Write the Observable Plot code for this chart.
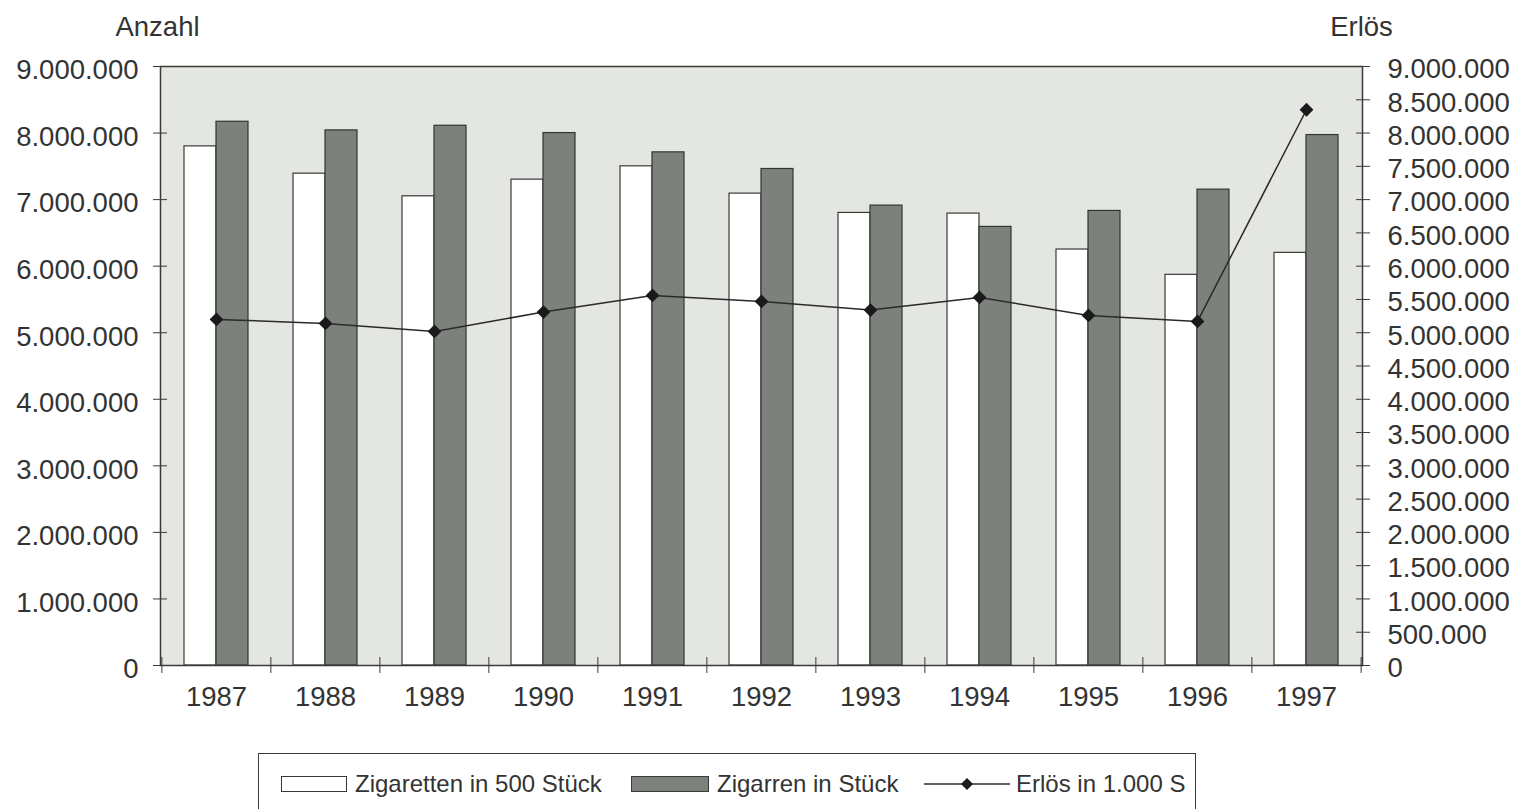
<!DOCTYPE html>
<html>
<head>
<meta charset="utf-8">
<script src="https://cdn.jsdelivr.net/npm/d3@7"></script>
<script src="https://cdn.jsdelivr.net/npm/@observablehq/plot@0.6"></script>
<style>
html, body { margin: 0; padding: 0; background: #ffffff; overflow: hidden; }
#chart { position: absolute; left: 0; top: 0; }
#legend { position: absolute; left: 258px; top: 753px; width: 938px; height: 80px; border: 1.5px solid #3a3a3a; box-sizing: border-box; font-family: "Liberation Sans", Arial, Helvetica, sans-serif; font-size: 24px; color: #333; }
.item { position: absolute; top: 16px; height: 27px; display: flex; align-items: center; white-space: nowrap; }
.sw { display: inline-block; width: 64px; height: 14px; border: 1.5px solid #3a3a3a; margin-right: 8px; }
</style>
</head>
<body>
<div id="chart"></div>
<div id="legend"></div>
<script>
// ---- data ----
const years = ["1987", "1988", "1989", "1990", "1991", "1992", "1993", "1994", "1995", "1996", "1997"];
const zigaretten = [7800000, 7390000, 7050000, 7300000, 7500000, 7090000, 6800000, 6790000, 6250000, 5870000, 6200000];
const zigarren = [8170000, 8040000, 8110000, 8000000, 7710000, 7460000, 6910000, 6590000, 6830000, 7150000, 7970000];
const erloes = [5200000, 5140000, 5020000, 5310000, 5560000, 5470000, 5340000, 5530000, 5260000, 5170000, 8350000];
const leftTicks = [0, 1000000, 2000000, 3000000, 4000000, 5000000, 6000000, 7000000, 8000000, 9000000];
const rightTicks = [0, 500000, 1000000, 1500000, 2000000, 2500000, 3000000, 3500000, 4000000, 4500000, 5000000, 5500000, 6000000, 6500000, 7000000, 7500000, 8000000, 8500000, 9000000];
const seriesNames = ["Zigaretten in 500 Stück", "Zigarren in Stück", "Erlös in 1.000 S"];
const axisTitles = ["Anzahl", "Erlös"];

// ---- layout / style ----
const W = 1517, H = 735, mL = 160, mR = 155, mT = 66, mB = 70;
const step = (W - mL - mR) / years.length;
const barW = 32;
const pInner = 1 - barW / step;
const colWhite = "#ffffff", colGray = "#7c827b", colBg = "#e4e6e1", ink = "#3a3a3a";
const fmt = d3.formatLocale({decimal: ",", thousands: ".", grouping: [3], currency: ["", ""]}).format(",");

const table = years.map((y, i) => ({year: y, zig: zigaretten[i], zigarren: zigarren[i], erl: erloes[i]}));

const plot = Plot.plot({
  width: W, height: H,
  marginLeft: mL, marginRight: mR, marginTop: mT, marginBottom: mB,
  style: {fontFamily: "'Liberation Sans', Arial, Helvetica, sans-serif", fontSize: "27.5px", color: "#333", background: "transparent", overflow: "visible"},
  x: {type: "band", domain: years, paddingInner: pInner, paddingOuter: pInner / 2, label: null},
  y: {domain: [0, 9000000], label: null},
  marks: [
    Plot.frame({fill: colBg, stroke: "none"}),
    Plot.barY(table, {x: "year", y: "zig", fill: colWhite, stroke: ink, strokeWidth: 1.2, dx: -barW / 2}),
    Plot.barY(table, {x: "year", y: "zigarren", fill: colGray, stroke: "#333633", strokeWidth: 1.2, dx: barW / 2}),
    Plot.frame({stroke: ink, strokeWidth: 1.5}),
    Plot.line(table, {x: "year", y: "erl", stroke: "#2a2a2a", strokeWidth: 1.5}),
    Plot.dot(table, {x: "year", y: "erl", symbol: "square", rotate: 45, r: 5.5, fill: "#1a1a1a", stroke: "none"}),
    Plot.axisY(leftTicks, {anchor: "left", tickSize: 14, dx: 7, stroke: ink, fill: "none", label: null}),
    Plot.axisY(leftTicks, {anchor: "left", tickSize: 0, tickPadding: 22, tickFormat: fmt, fill: "#333", dy: 4, label: null}),
    Plot.axisY(rightTicks, {anchor: "right", tickSize: 14, dx: -7, stroke: ink, fill: "none", label: null}),
    Plot.axisY(rightTicks, {anchor: "right", tickSize: 0, tickPadding: 25, tickFormat: fmt, fill: "#333", dy: 3, label: null}),
    Plot.axisX(years, {anchor: "bottom", tickSize: 0, tickPadding: 21, fill: "#333", label: null}),
    Plot.axisX(years, {anchor: "bottom", tickSize: 16, dy: -8, dx: -step / 2, stroke: ink, fill: "none", label: null}),
    Plot.axisX([years[years.length - 1]], {anchor: "bottom", tickSize: 16, dy: -8, dx: step / 2, stroke: ink, fill: "none", label: null}),
    Plot.text([axisTitles[0]], {frameAnchor: "top-left", text: d => d, dx: -3, dy: -39, lineAnchor: "middle", textAnchor: "middle", fill: "#333"}),
    Plot.text([axisTitles[1]], {frameAnchor: "top-right", text: d => d, dx: -1, dy: -39, lineAnchor: "middle", textAnchor: "middle", fill: "#333"})
  ]
});
document.getElementById("chart").appendChild(plot);

// ---- legend ----
const legend = document.getElementById("legend");
const lefts = [22, 372, 665];
seriesNames.forEach((name, i) => {
  const item = document.createElement("div");
  item.className = "item";
  item.style.left = lefts[i] + "px";
  if (i < 2) {
    const sw = document.createElement("span");
    sw.className = "sw";
    sw.style.background = i === 0 ? colWhite : colGray;
    if (i === 1) sw.style.width = "76px";
    item.appendChild(sw);
  } else {
    const ns = "http://www.w3.org/2000/svg";
    const svg = document.createElementNS(ns, "svg");
    svg.setAttribute("width", "86");
    svg.setAttribute("height", "20");
    svg.style.marginRight = "6px";
    const ln = document.createElementNS(ns, "line");
    ln.setAttribute("x1", "0"); ln.setAttribute("x2", "86");
    ln.setAttribute("y1", "10"); ln.setAttribute("y2", "10");
    ln.setAttribute("stroke", "#2a2a2a"); ln.setAttribute("stroke-width", "1.5");
    const dm = document.createElementNS(ns, "path");
    dm.setAttribute("d", "M37,10L43,4L49,10L43,16Z");
    dm.setAttribute("fill", "#1a1a1a");
    svg.appendChild(ln); svg.appendChild(dm);
    item.appendChild(svg);
  }
  const t = document.createElement("span");
  t.textContent = name;
  item.appendChild(t);
  legend.appendChild(item);
});
</script>
</body>
</html>
